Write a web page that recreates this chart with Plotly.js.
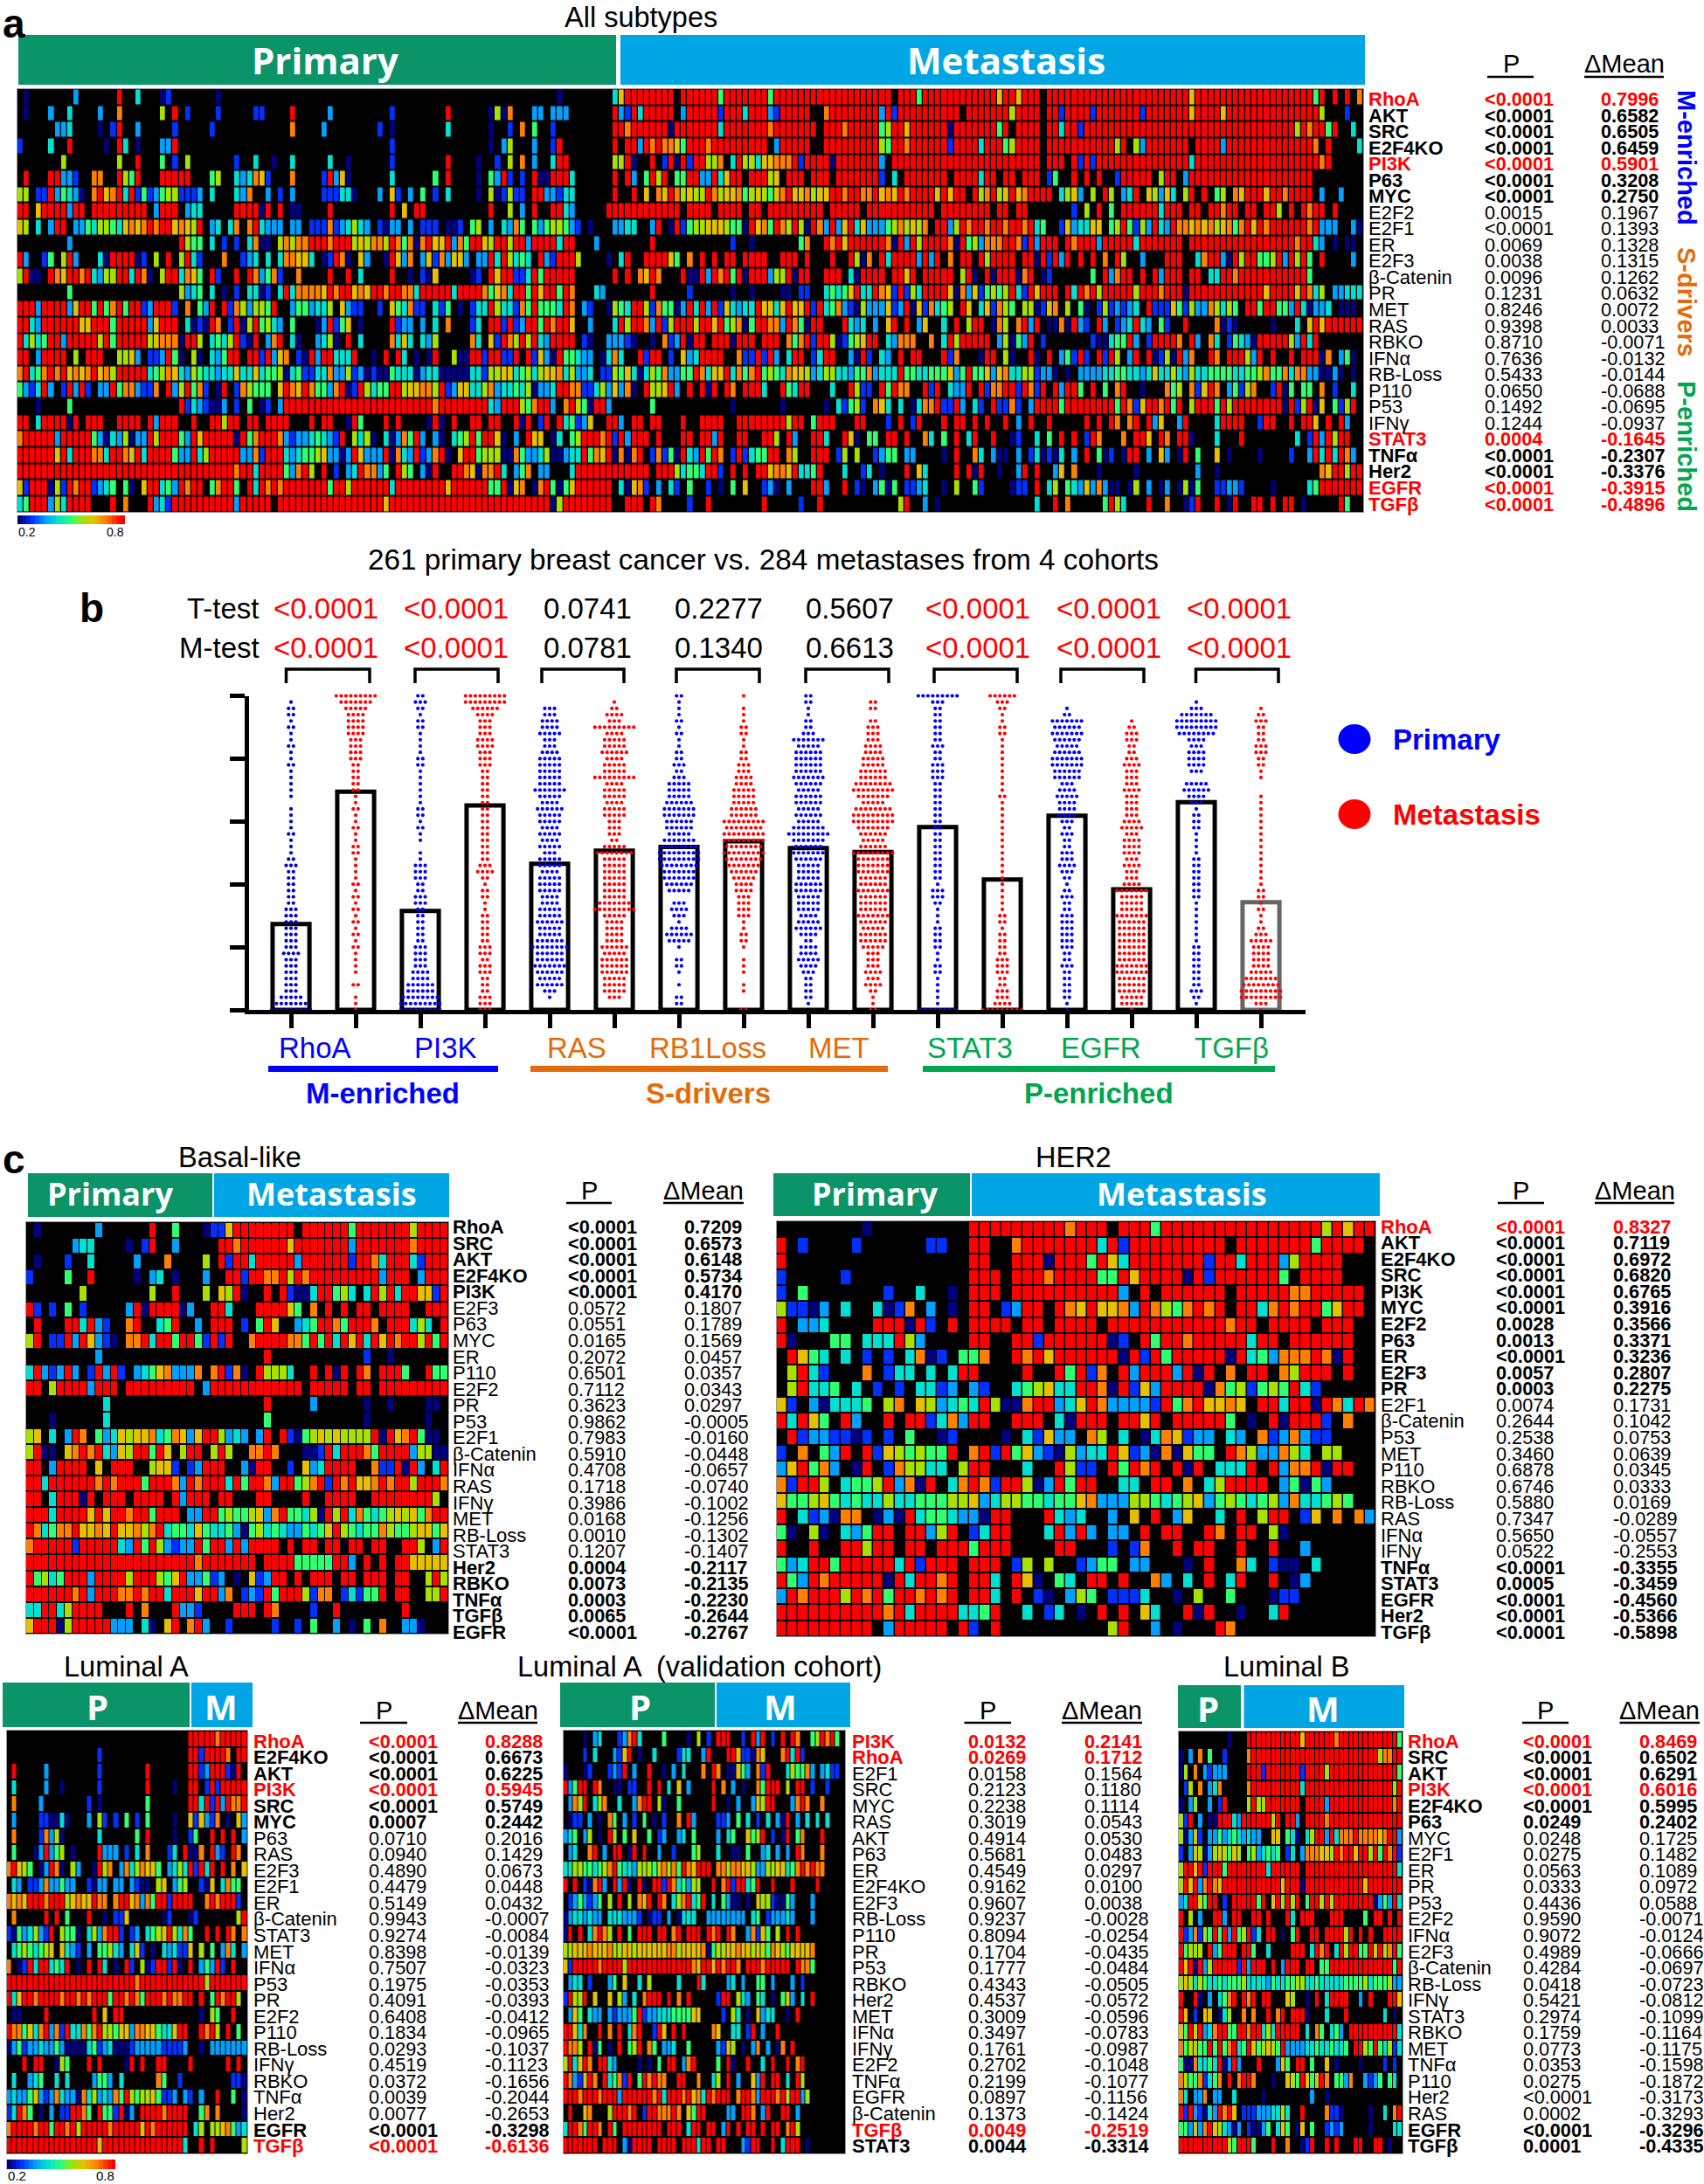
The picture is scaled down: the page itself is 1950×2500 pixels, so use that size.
<!DOCTYPE html>
<html><head><meta charset="utf-8"><script src="https://cdn.plot.ly/plotly-3.0.1.min.js"></script>
<style>html,body{margin:0;padding:0;background:#fff}</style></head><body><div id="chart" style="width:1950px;height:2500px"></div>
<script>
// ---------- value levels ('.' = below 0.2, drawn black) ----------
const levelValues = {'.':0, 1:0.2, 2:0.27, 3:0.35, 4:0.42, 5:0.5, 6:0.57, 7:0.63, 8:0.7, 9:0.8};
const colorbarValues = [0.2,0.225,0.25,0.275,0.3,0.325,0.35,0.375,0.4,0.425,0.45,0.475,0.5,0.525,0.55,0.575,0.6,0.625,0.65,0.675,0.7,0.725,0.75,0.775,0.8];

// ---------- Panel a : all subtypes ----------
const allGenes = ['RhoA','AKT','SRC','E2F4KO','PI3K','P63','MYC','E2F2','E2F1','ER','E2F3','β-Catenin','PR','MET','RAS','RBKO','IFNα','RB-Loss','P110','P53','IFNγ','STAT3','TNFα','Her2','EGFR','TGFβ'];
const allP = ['<0.0001','<0.0001','<0.0001','<0.0001','<0.0001','<0.0001','<0.0001','0.0015','<0.0001','0.0069','0.0038','0.0096','0.1231','0.8246','0.9398','0.8710','0.7636','0.5433','0.0650','0.1492','0.1244','0.0004','<0.0001','<0.0001','<0.0001','<0.0001'];
const allMean = ['0.7996','0.6582','0.6505','0.6459','0.5901','0.3208','0.2750','0.1967','0.1393','0.1328','0.1315','0.1262','0.0632','0.0072','0.0033','-0.0071','-0.0132','-0.0144','-0.0688','-0.0695','-0.0937','-0.1645','-0.2307','-0.3376','-0.3915','-0.4896'];
const allStyle = 'rbbbrbbnnnnnnnnnnnnnnrbbrr';
const allCells = [
".1.......3 ......9..4 ...12..... ..1....... .......... .......... .......... .......... .......1.. ......|4799999999 .999999599 9999959999 9999999999 99999.9995 9999999999 997997999. 9999999999 9999999999 9997999999 9999999999 99959.9.9. 8",
".1...3..4. ...3..8... ...6.9.2.. ..2.....22 ....9..... 3......... 2........9 ......1618 ...33.333. ......|9329499999 .399999299 9499932999 99..899999 9993929999 999999.999 999969999. 9929999299 9999929999 9997999979 9999999999 99996...2. .",
"......334. ...1.29..3 .....2.... .2........ ....8....3 ........2. 1........4 ......1..2 .8.5..2... ......|9989999991 9999999499 9999989999 999.999899 9995699799 9999199999 9959.9999. 9949929999 9999999999 9999999999 9999999999 6989959..4 .",
"2....4..9. ....1.94.1 ...339.... .......... .......... .......... 2......... ......1.36 ...3..29.. ......|9.99398988 7599989999 99999.3999 99..999999 9996599899 9999299994 999569999. 9999999999 969.639999 999.999939 9999999999 9998.9.... 4",
".......6.. ......6..9 ...5.2.6.. .....2..4. .1..4..... 4..1...... 2........9 ....1..2.6 .8.3..499. ......|6691..9.29 19299668.4 9664778889 2999919999 9993.99999 9999999999 999999999. 999.929299 9999999999 9994999999 9999999999 999989.... .",
".9...99332 ..88..9659 ...99999.. .56..43487 2...8....2 9371...... 4......5.9 ....1.5392 .2.9119994 ......|9.93.5969. 5599339479 9.99967.99 9.999.9999 9992.4.999 9999.99994 99.99.999. 25..9.9.9. .299999.69 9.39999999 9999999999 999....... .",
"66.2293543 1.89789492 5235662223 .4...438.. 3.2.3....2 22441...3. 72.3.5.2.4 ....1.6126 22.9933244 ......|9..9.7.879 8676698677 8567657897 7867799899 8897879899 9979799.96 8967978999 9.4673.6.9 6.349.7637 4.69.9.56. 8799979989 999.3..3.. .",
"99.7999939 9.99999999 9.3999.344 .....99991 9.9.11.... 9......... 9.7.99.... ......9..6 .3.9..9943 .....9|9999999999 9.9999.999 9.99.99999 9999.99999 .999999999 99.9999999 9.99.99... ....2.6.9. 5.99999949 99.99.9989 9.99.996.9 .9899.9... .",
"76.4.399.3 3546654787 8989978769 .34.48.894 333.33.222 8234643.21 33.3.222.1 12.56.3.43 85.5356653 2.1...|3344..39.1 9256677765 5197859869 6198393794 7333568676 8.99369899 8998998945 ..2734477. 5695263943 9887878678 5897989999 9989333..3 1",
"........3. .......... ......9655 .4.2.2.481 1.68688999 8999676886 9858189779 3859976996 9939999499 ...3..|......9... .........2 ..1....... 58..989799 9999819396 9999819563 8889982939 99.9899939 9999499999 99.9999999 9999999999 89943.1.11 .",
"93..25.693 ...4199991 2.6.9.6942 ...8..234. 4.488774.1 2981.73..1 9738.37283 773.339496 454.932999 6....1|.49..99997 5.8.9.9.99 .9999..999 .9...9..96 18.9499993 939.8.99.9 69999.9919 2939.9.9.8 .96..3...9 99..489931 9699556939 695.9....3 .",
"6911.98799 8943669949 81.6994875 .92..9.983 582..8.... 9..9.4.... 9..1.217.. ...12.9799 2249599999 ......|9.9.8798.. .911939895 9199936691 99..999.41 9999.9979. 99999.691. 91999189.1 2......5.9 3899.9.939 99.99.4499 8999999999 995....... .",
"........5. .......... ......6345 .4.1.2.441 2.49488887 9899787998 9988499999 4999985784 9959799598 ...43.|......9... ..2......1 ..1....11. 22..454579 4498729264 9999718372 5656942979 99.9498969 9999699989 9919999999 9999979999 79846.3344 4",
"9993999937 9959589599 239992.8.5 39.9286366 59..355344 6.7322..2. 754822.425 .1.2449644 2859555498 .32..1|6549962855 1394939274 3449774797 7929458321 6333723917 28456.97.4 72865.6612 78.6.51.26 23234.9222 7526338646 5.99599553 941334.111 .",
"9943999999 7799959999 937999.412 198.291695 643.5...13 9257.1.... 9233.3.4.8 ...24.9929 2399598997 ..3...|4969983926 9996997956 8159988398 5199...943 4.3.79.9.3 7..4.9.699 .186.8939. 1181932.93 .234943.52 ..9....812 1.....1... 4.79799999 9",
"9464599399 9996959999 9678881996 .45469219. 389.41..34 61.9.4.... 8474.436.. ...84.7298 6969439999 .21..3|3321..1.82 39199.9991 999.999.85 8929961256 799.43888. .8.4969999 9.361539.2 .......211 45593.2999 98.93.84.2 5431999996 3949...... .",
"99.39999.6 .999..6673 .223951.61 .43599.992 9378.21939 94449..1.9 .94.1.19.. 6119929922 9.92731955 433.14|84..9299.2 .7349999.. 8229293.49 9.2499..31 92.43.9.99 ...928...1 99.61..91. 9.35292.92 96.39.9126 1938..98.9 99639.9..9 .99918.351 .",
"8945898978 7897869999 9456874365 4434474474 5561452244 8336231211 5444134411 1114426677 4564677846 334.22|6574146583 3559847794 8589565487 7634664435 5834449554 4555735955 7378446623 31.1.33334 4554434744 6436445555 4455685584 88331131.1 .",
"532493.293 92.3395883 228.936958 2.19.28655 5.79879855 3891296455 9967788692 3774468344 5461334998 822463|7381.96679 3.9.919.98 .9994..954 99...4..96 22.95988.. 929.4339.9 2889929829 .93995.9.5 .89..1...8 56.82798.3 5268..2915 .55.8.2..4 .",
"...1....5. .......... ......9243 2113.2.5.1 2.39999999 9999999999 9999999899 9999994399 9658993.89 651993|......5... .........1 .......1.. ....1.4256 2.874.4.14 8892293.42 .92282.399 9959999999 9598279989 59.6999596 9999999919 26917.5269 .",
"99.4999919 .999..9999 .93999..9. .99699.99. 9999...9.9 9..195...9 .9....191. 9..99.99.. 919.29.945 237..9|93.99.99.. .9..9999.. 9999999969 9.5999...9 9...2.9.29 ...9.99.9. 9..9.3.9.. 9.....9.9. 98.89.937. .39....499 99..299..9 .997.9.93. .",
"8999993999 9953143613 3969995397 9999919589 9983233454 329.6461.4 138593.31. 456959971. 3.977.14.5 699989|293999.9.. .99.9939.. 99..996.93 ..994..971 .55.99.9.. 84.5.9.49. .9..12..4. 5.9.9.298. ..8.997.98 .991...4.. .9........ 4.2939699. .",
"9999997949 9988499879 4999953394 6999993382 9994345567 3313973339 1843923891 .799566611 8533461134 495879|18189.2825 19439598.2 9245599.86 ..999.26.6 ..2355.33. ...1.9..84 .311.3.241 214.3.9.51 2.199.3.73 .19.5..7.1 ....1....2 ..39494983 .",
"9999999999 9999999999 9999999999 9999989949 99953896.9 .2.3498835 .965.319.. 998718894. 358.33...4 999999|999999.999 64554992.9 .9.9978879 4459...4.. 24.1...9.7 4....9.919 ..1..39.9. .37.8...1. ....1..... ....3..1.. .......... ....879969 9",
"7299916298 992345.51. 7994539899 .58995.949 8989999999 5996999999 4999999997 9999995591 78.1895157 999999|.41782.3.4 2.5..2.1.5 .7..231.3. ..993..9.2 1.3515.223 4..1.6..52 ....122.9. 46.5437383 11.16.3.13 .1615..223 32....1... ..45999999 9",
"4599936499 99...9.8.. .934299999 9999939999 9.99999999 9999999997 9999999999 9999999999 9999991699 999999|..999.98.. ..2..9.... ....9..... 2..9...... ......69.. 3.1....... ........4. .9.8.....5 964...9..8 ..129..9.1 9..99.9.99 .1.....95. ."
];

// ---------- Panel c : Basal-like ----------
const basalGenes = ['RhoA','SRC','AKT','E2F4KO','PI3K','E2F3','P63','MYC','ER','P110','E2F2','PR','P53','E2F1','β-Catenin','IFNα','RAS','IFNγ','MET','RB-Loss','STAT3','Her2','RBKO','TNFα','TGFβ','EGFR'];
const basalP = ['<0.0001','<0.0001','<0.0001','<0.0001','<0.0001','0.0572','0.0551','0.0165','0.2072','0.6501','0.7112','0.3623','0.9862','0.7983','0.5910','0.4708','0.1718','0.3986','0.0168','0.0010','0.1207','0.0004','0.0073','0.0003','0.0065','<0.0001'];
const basalMean = ['0.7209','0.6573','0.6148','0.5734','0.4170','0.1807','0.1789','0.1569','0.0457','0.0357','0.0343','0.0297','-0.0005','-0.0160','-0.0448','-0.0657','-0.0740','-0.1002','-0.1256','-0.1302','-0.1407','-0.2117','-0.2135','-0.2230','-0.2644','-0.2767'];
const basalStyle = 'bbbbbnnnnnnnnnnnnnnnnbbbbb';
const basalCells = [
".1.......3 ......9..5 ...1|2279999999 9.99999959 9999996999 9",
"......344. ...1.29..3 ....|.998999999 7999999939 9999998999 9",
".1...2..4. ....3...8. ...6|.929949999 9399999929 9849994299 9",
"2....5..9. ....1.34.1 ...3|..99299889 6989999999 993999.399 9",
".......6.. ......6..9 ...6|.7691..9.9 21149956 4. 4969499772 9",
"92.2.5.2.. ...391 9999 13 ..5|994...9999 75.8.9.9.9 9.9999..99 9",
".9...9949 3 2 .. 8 9 . . 4 5 9 . . 3|999.2.597. .345998599 98.999464. 9",
"6 9 . 2 2 9 3 9 7 3 2 1 . 8 8 9 4 9 9 5 9 9 5 2|929..89999 8859594979 4979899695 9",
"......... 3...... .........|.......9.. .......... 2..1...... .",
"4 9 3 2 3 9 3 . 2 9 3 9 2 . 3 4 5 7 8 3 3 3 8 .|89281.9666 4..9.919.9 8.9995..95 5",
"99.69999 3 9 9 9 . 9 9 9 9 9 9 9 9 9 . 3|9999999999 99.99999.9 9.99999999 9",
"......... .4...... ......... |.......9.. ...3...... 1..1....11 .",
"...1...... 4.........|.......5.. .......... 1.......1. .",
"6 7 . 4 . 3 9 8 . 5 3 4 7 6 7 7 8 4 5 8 7 3 7 9|96343.39.9 2156767666 6919789511 .",
"6 9 1 1 . 7 8 9 8 9 4 3 7 6 9 9 5 9 7 . 6 9 9 .|696..8898. ..11294999 8599993661 1",
"9 9 . 3 9 9 9 9 . 7 . 9 9 9 . . 6 7 7 2 . 2 3 9 |99..3199.. 2.7349999. .8229193.4 9",
"9 9 4 9 9 9 9 9 9 8 9 8 9 9 9 5 9 9 9 8 3 9 8 9|9949599839 9568929897 7898996999 8",
"9 9 . 4 9 9 9 1 9 . 9 9 9 . 9 9 9 9 . 9 3 9 9 9 |.99...99.. ..9..9999. .999999996 .",
"9 9 9 4 9 9 9 9 7 9 7 9 9 8 9 9 5 9 9 9 . 3 3 9 |9565567389 5546196948 5456767589 9",
"9 8 4 5 8 8 9 7 7 8 7 9 7 7 8 6 8 9 4 5 5 4 7 5|4453156454 3354579654 5586556775 7",
"8 9 9 9 9 9 2 9 9 9 9 9 4 3 9 5 9 6 3 2 3 3 9 5|993939999. 9.99.99.99 .99..996.3 9",
"9 9 9 9 9 9 9 9 9 9 9 9 9 9 9 9 9 9 9 9 9 9 8 9|999999.999 955555993. 9.9.997777 7",
"9 5 6 4 5 9 9 9 3 9 9 9 9 6 9 9 9 6 5 7 9 3 3 5|23.1.72399 .9.999.99. 999.99..69 6",
"9 9 9 9 9 9 8 9 3 9 9 9 8 8 9 8 9 9 4 9 9 9 7 9|938.232959 996288.242 559.99..66 9",
"4 4 9 9 4 6 9 9 9 9 . . . 9 . 8 . . . 9 3 3 2 .|...999.98. ...2..9... .....9.... .",
"7 9 9 9 1 6 9 9 9 9 9 3 3 3 . 4 1 . 7 9 . 8 9 3|..2.....2. .2.5..3.1. 5.8..331.. ."
];

// ---------- Panel c : HER2 ----------
const her2Genes = ['RhoA','AKT','E2F4KO','SRC','PI3K','MYC','E2F2','P63','ER','E2F3','PR','E2F1','β-Catenin','P53','MET','P110','RBKO','RB-Loss','RAS','IFNα','IFNγ','TNFα','STAT3','EGFR','Her2','TGFβ'];
const her2P = ['<0.0001','<0.0001','<0.0001','<0.0001','<0.0001','<0.0001','0.0028','0.0013','<0.0001','0.0057','0.0003','0.0074','0.2644','0.2538','0.3460','0.6878','0.6746','0.5880','0.7347','0.5650','0.0522','<0.0001','0.0005','<0.0001','<0.0001','<0.0001'];
const her2Mean = ['0.8327','0.7119','0.6972','0.6820','0.6765','0.3916','0.3566','0.3371','0.3236','0.2807','0.2275','0.1731','0.1042','0.0753','0.0639','0.0345','0.0333','0.0169','-0.0289','-0.0557','-0.2553','-0.3355','-0.3459','-0.4560','-0.5366','-0.5898'];
const her2Style = 'rbbbbbbbbbbnnnnnnnnnnbbbbb';
const her2Cells = [
"....... .1 .........|9999999 9 9 8 9 9 9 . 9 9 9 5 9 9 9 9 9 9 9 9 9 9 9 9 9 9 9 6 9 7 9 9 9",
"9.2....2. .....22...|99..8999 9 9 9 9 4 9 2 9 9 9 9 9 9 9 9 9 . 9 9 9 9 9 9 9 5 9 9 9 9",
"9.........  ........|99..999 1 9 9 9 5 9 7 4 9 9 9 9 9 9 9 2 9 9 4 9 9 9 3 6 9 9 9 9",
"2.....2... ........|999.999 8 9 9 9 9 5 5 9 7 9 9 9 9 1 9 2 9 9 9 9 9 9 5 . 9 9 9 9",
"2.5....... 2..4..1.|999.9999 9 9 9 9 9 9 3 . 9 . 9 9 9 9 9 9 . 9 9 9 9 9 8 8 9 9 9 9 9",
"62 2 1 3 . 4 . . 4 1 2 8 . 3 . 1|99.2 3 9 9 . 9 8 7 9 7 7 8 3 9 8 6 5 8 9 8 9 . 9 9 4 8 9 8 9 9 5 7 9 9",
"9.3 3 4 . . . . 9 9 9 1 9 2 . 9|999 9 . 9 9 . 9 9 9 9 . 9 9 9 9 9 9 9 9 9 9 9 8 9 9 . 9 9 9 9 . 9 9 9",
"9 1 . . . 5 5 . 4 4 4 9 6 3 . . .|99..9 9 2 9 9 9 9 9 9 1 2 . 9 5 9 9 8 9 9 9 9 9 4 9 9 . 9 9 9 9 9 9",
". 9 7 5 4 . 4 . 2 . 2 . 4 8 1 2 . 5|5 8 . . 9 8 9 7 9 9 9 9 9 9 1 9 2 9 5 9 9 9 9 9 1 9 4 5 3 8 8 8 9 8 1 9",
".69 4 2 . . . 8 . 2 4 4 . 4 . 4 9|9 . . . . 9 . . 9 5 9 2 8 . 9 3 9 9 9 3 9 1 9 . 8 . 9 9 . 8 6 9 9 9 . 9",
".6 9 4 4 5 . 4 . 2 . 2 . 4 4 2 3 . 4|3 2 . . 4 5 6 7 4 4 9 9 8 1 9 2 7 3 9 9 9 9 1 8 5 6 2 5 6 5 9 4 2",
"7 2 . 3 1 4 4 4 5 . 6 8 . 7 6 3 4 5|4 9 6 1 1 8 9 9 3 4 7 9 8 3 3 3 3 2 9 5 8 9 7 7 8 7 . 9 9 4 9 9 1 9 8 4 9 8",
"9 4 9 7 5 . 9 3 . . 9 . 9 9 2 4 8 3|9 9 . . 9 9 9 . 4 1 9 9 9 . 9 9 7 9 . 9 9 9 9 9 5 . 1 . 9 1 9 9 9 2 . 8",
". 9 2 3 3 2 2 1 2 . 2 . 5 . . 1 2 . 3|. . . 1 . 4 2 7 3 3 . 8 6 . 4 . 1 4 8 7 2 3 3 . 4 3 . 8 2 3 8 3 2 2 .",
"2 . 8 . 5 3 9 . 9 2 7 6 5 6 5 5 9 .|8 9 2 9 5 7 3 2 1 6 3 4 4 9 7 2 3 1 8 1 7 5 5 . 9 8 6 3 3 8 6 4 . 6 6",
"3 7 9 5 8 3 . 1 9 . 2 8 6 6 4 4 . 6|9 9 . . . 4 . . 9 6 2 2 . 9 5 9 8 9 . 9 1 9 . 4 4 4 9 . 9 3 8 8 9 1 9 9",
"8 2 9 9 6 . 4 5 5 6 9 3 8 1 9 . 4 8|9 8 2 9 9 6 1 3 9 5 9 9 . . 4 4 . 9 9 . 8 . 4 6 9 9 9 9 . 3 5 1 5 3",
"7 5 5 6 7 5 4 5 4 4 6 4 4 5 5 5 6 6|7 3 4 6 6 5 5 4 5 5 7 8 3 3 3 6 6 5 4 5 6 7 3 5 6 5 4 5 6 3 8 4 4 5 6 5",
"9 . 4 2 3 1 8 8 . 1 3 1 9 4 5 5 4 3|3 1 9 9 . . . 9 4 3 4 . . 3 . 7 . 9 . 3 7 . . 4 . 9 . 6 9 9 . 2 7 . 8 . 8 3",
"5 1 . 6 1 . 4 3 5 9 9 . 9 9 3 6 9 .|2 4 9 9 . . . 4 9 3 9 3 . 3 3 . 9 . 9 9 . . 9 8 . 9 9 . 6 1 . .",
"9 . . 9 . . 9 9 6 9 9 . 9 9 . 9 9 9|5 9 9 9 . . . . 9 9 . . . 2 . 2 8 . . 9 . 9 9 . . 9 . . 9 . . 3",
"5 3 4 9 9 5 9 9 9 9 9 4 9 2 9 9 9 .|9 9 9 . 2 6 . 6 . . 2 3 5 5 . 3 3 . . . 1 . 9 . . 8 4 . 2 1 1 . 4",
"9 5 3 9 8 9 9 9 9 9 1 9 4 9 9 8 9 .|9 9 4 . 9 7 1 . 5 4 . 9 9 . 9 . . 8 3 . 4 . 9 . 4 9 . . 9 . 1 3",
"3 9 8 9 9 9 6 9 8 9 5 9 9 8 9 8 9 .|9 9 4 . 9 . 2 1 . 3 6 5 . 2 2 2 4 . . 1 . 6 . . 5 . . . 1 2 2 .",
"9 9 9 9 9 9 9 9 9 9 8 9 4 9 9 9 9 4|4 5 9 . . 4 . 2 4 . 1 . 9 . 9 . 7 4 . . 9 1 9 . . 1 . . 4 9 .",
"9 9 9 9 9 9 9 9 9 . 3 9 9 9 9 9 . 9|2 . 9 . . . . . . . . . . 6 9 . . 3 . 1 . . . 9 8 . . . . . . ."
];

// ---------- Panel c : Luminal A ----------
const lumAGenes = ['RhoA','E2F4KO','AKT','PI3K','SRC','MYC','P63','RAS','E2F3','E2F1','ER','β-Catenin','STAT3','MET','IFNα','P53','PR','E2F2','P110','RB-Loss','IFNγ','RBKO','TNFα','Her2','EGFR','TGFβ'];
const lumAP = ['<0.0001','<0.0001','<0.0001','<0.0001','<0.0001','0.0007','0.0710','0.0940','0.4890','0.4479','0.5149','0.9943','0.9274','0.8398','0.7507','0.1975','0.4091','0.6408','0.1834','0.0293','0.4519','0.0372','0.0039','0.0077','<0.0001','<0.0001'];
const lumAMean = ['0.8288','0.6673','0.6225','0.5945','0.5749','0.2442','0.2016','0.1429','0.0673','0.0448','0.0432','-0.0007','-0.0084','-0.0139','-0.0323','-0.0353','-0.0393','-0.0412','-0.0965','-0.1037','-0.1123','-0.1656','-0.2044','-0.2653','-0.3298','-0.6136'];
const lumAStyle = 'rbbrbbnnnnnnnnnnnnnnnnnnbr';
const lumACells = [
".......... .......... .......... ....|9999989999 9",
".......... .......2.. .......... ....|9929999 8 . 9 9",
".9.....3.. .......2.. ......9... ....|9923999 2 1 9 .",
".4.....3.. 1......2.. ......9... .1..|99.2 9 2 9 9 9 9 9",
".8....3... .....2.1.. ......5... ....|9949 2 9 3 9 8 8 9",
".3....2211 41...3.62. 2.5.2.5... .1..|7 2 7 3 2 8 . 1 . 7 3",
".8....2836 1......4.. ....5.9... .1..|2 5 . . 9 . 9 . 9 . 3",
".5...13935 6.1....933 3.2.4.8... 24.9|1 1 8 . 9 3 2 . 9 8 .",
"8 9 7 6 5 . 1 3 9 8 1 . 6 3 . . 1 9 6 8 . 3 8 4 6 8 7 7 5 . 3 4 6 4|9 2 9 4 9 . 9 . 8 . 7",
". 4 3 . 2 2 3 8 3 3 5 3 3 . . 2 1 3 3 . 3 3 . 3 2 1 1 . 6 7 . 3 5 6|. . 2 1 7 . 4 8 5 5 .",
"8 7 8 7 9 9 9 8 9 9 9 6 7 8 7 7 9 8 8 . 8 9 9 7 8 3 8 5 9 9 2 9 9 9|9 . . 8 9 8 9 9 9 2 .",
". 8 . . . . . 9 . 9 . 5 . . . 9 . . 1 . 2 2 7 . . . . . . 1 2 . . .|1 2 . . . . . . . 6 9",
"2 1 5 3 4 6 3 2 9 . 6 5 5 1 . 4 6 3 8 9 9 2 . 2 3 . 4 5 6 7 9 6 4 8|5 . . 9 . 9 . 9 8 . 8",
". 4 5 6 5 4 5 6 7 . 7 4 3 2 . 3 . 5 5 6 4 3 . 4 7 2 . 1 . 4 3 4 2 2|7 . 6 . 5 . 3 8 4 . 3",
"8 . 1 2 9 4 9 9 4 5 4 9 . 1 . 9 . 9 4 . 1 . 9 2 . 6 1 2 9 9 2 9 1 .|9 . 3 5 3 9 2 . 9 . .",
"9 9 9 9 9 9 9 9 9 9 9 9 9 9 9 9 9 9 9 9 9 9 9 9 8 9 9 9 9 9 9 9 9 9|9 9 9 6 9 9 9 9 9 9 9",
"9 4 7 9 9 8 9 9 9 9 8 9 9 8 9 8 9 9 9 5 9 9 8 9 8 5 9 9 9 8 9 8 8 9|9 . 9 . 5 9 8 9 9 6 .",
". 1 1 . . . . 9 . . . . . . . . 9 . 7 . 9 9 . . . . . . . . . . . .|. . 1 . 6 5 . . 9 . .",
"9 8 8 5 7 4 8 9 3 8 2 9 4 4 8 5 8 9 6 6 5 7 7 3 8 8 7 7 5 4 4 7 9 9|. . 9 8 9 6 . 9 . 5 .",
"1 3 5 2 3 3 4 3 3 5 3 1 1 1 1 4 5 2 3 4 1 1 1 2 3 3 3 3 3 2 2 2 2 3|. . 1 . 3 3 3 3 3 3 3",
". . . 9 . 9 9 . . 1 6 5 . . . 9 . 9 . . . . 1 9 . 9 . . 9 9 . . . .|9 . . . . . . 9 . 9 .",
". 4 . . 3 4 5 . . 4 . 4 . . . . 3 5 5 3 . 4 . . . . . . 8 5 . . 2 .|. . . . . . . . 2 2 1",
"3 4 3 3 5 7 3 2 3 8 4 3 3 1 8 4 6 3 4 3 8 5 9 6 5 6 6 7 5 2 2 3 . 3|2 . 3 . . 9 . . 5 . 1",
"2 4 9 8 5 . 1 . 3 . 2 2 9 9 8 5 . 9 5 5 2 9 1 3 . 9 9 9 9 8 9 9 9 9|. . 5 8 . 8 . . . . 1",
"8 9 9 9 9 8 9 9 5 9 9 8 9 6 9 9 9 9 9 8 9 9 9 9 9 7 9 8 9 9 9 9 9 9|. 4 6 . 6 6 7 8 5 3 4",
"9 9 9 9 9 9 9 9 9 9 9 9 9 9 9 9 9 7 9 9 9 9 9 9 9 9 9 9 9 9 9 9 9 4|. . 9 . 9 . . . . . 6"
];

// ---------- Panel c : Luminal A validation ----------
const lumVGenes = ['PI3K','RhoA','E2F1','SRC','MYC','RAS','AKT','P63','ER','E2F4KO','E2F3','RB-Loss','P110','PR','P53','RBKO','Her2','MET','IFNα','IFNγ','E2F2','TNFα','EGFR','β-Catenin','TGFβ','STAT3'];
const lumVP = ['0.0132','0.0269','0.0158','0.2123','0.2238','0.3019','0.4914','0.5681','0.4549','0.9162','0.9607','0.9237','0.8094','0.1704','0.1777','0.4343','0.4537','0.3009','0.3497','0.1761','0.2702','0.2199','0.0897','0.1373','0.0049','0.0044'];
const lumVMean = ['0.2141','0.1712','0.1564','0.1180','0.1114','0.0543','0.0530','0.0483','0.0297','0.0100','0.0038','-0.0028','-0.0254','-0.0435','-0.0484','-0.0505','-0.0572','-0.0596','-0.0783','-0.0987','-0.1048','-0.1077','-0.1156','-0.1424','-0.2519','-0.3314'];
const lumVStyle = 'rrnnnnnnnnnnnnnnnnnnnnnnrb';
const lumVCells = [
"....1.34.. .2 3 8 9 4 . . . . 5 . . . . 1 . 6 . 2 . . . |. 9 9 9 . . 2 . 9 3 9 . 2 . 9 . 9 8 . . 5 6 9 8 9 5",
"....2.4.. .3 2 7 9 . 1 . . 4 . . . . 2 4 4 . . 3 9 9 |. . . 9 9 7 2 2 1 8 7 . . . 8 9 4 9 2 . . . . . . .",
"1...1 2 . . . 2 3 2 9 . 3 . . 9 . . 1 . 3 . 4 . . . 8 |9 8 . 1 1 7 5 3 . 8 2 9 . . . 4 6 5 5 8 3 . 3 4 2 2",
"9 3 5 9 9 . 9 8 . . 1 1 . 2 2 . . 9 . 9 . 4 . 7 . 3 . .|9 . 8 . 3 . 1 . . 8 5 9 9 9 . 6 . 9 9 . 2 . . 2",
". 3 8 6 9 . 4 6 8 . . 4 . . 3 8 9 9 . 6 1 . . 5 . . . .|9 . . 1 . 3 . . 3 7 6 9 9 . . . 3 8 9 8 . . 8",
". 1 2 2 . 3 . 1 . 8 5 . 3 . 2 . 5 . 1 . 2 . . 8 . 9 3|. 2 2 3 . 5 . 4 . 2 . 4 . 3 1 9 . 3 . 4 . 4 . 4",
"3 4 5 . 3 6 . 1 . 9 6 . 5 . 7 . . 5 . 2 3 . . 3 4 . 5|. 3 . 4 5 . . 7 5 6 9 . 2 . 1 9 . 5 8 . . . 9",
". 3 4 . . 8 9 . 3 . 9 9 . 1 9 . 9 . . 3 . . 2 . . . 5 6|. 4 . . 1 1 . 5 . . 3 4 . 3 . 3 . 9 8 . . . 8",
"4 4 6 6 5 5 4 5 6 8 9 5 4 4 3 6 6 6 5 7 8 6 8 5 9 8 7 9 9 9|. 8 8 6 8 8 7 7 6 3 3 6 6 7 7 4 5 8 9 8 9 8 8",
"9 . 9 . 2 1 8 9 3 . 9 3 9 1 . 9 1 . 9 9 2 9 8 4 5 3 6 6 . .|9 . 8 9 2 9 9 4 5 9 . . 9 . . . 9 . . . . 9",
". 2 3 5 3 2 3 5 . 6 . 9 . 6 . 8 7 9 . 9 8 . 4 6 8 9 4 5 9 .|4 . 5 3 1 1 . 1 . 7 6 6 2 1 1 5 3 . . . 3",
"1 3 4 4 3 4 3 3 . 4 4 4 3 3 3 2 . 1 2 2 . 3 . 1 4 4 4 . . 3|3 3 3 3 3 3 3 . 4 5 . 2 3 3 3 4 3 . . . 3",
"1 9 . 9 . 4 8 9 8 6 . 9 . 5 . 9 9 9 . 9 9 . 8 9 . 9 9 9 . 9|8 9 . 9 8 . . 3 8 2 7 5 . 6 . 9 . 9",
"6 6 7 7 7 8 7 7 7 8 6 6 7 7 6 7 7 7 7 7 7 8 8 6 7 7 7 7 8 1|5 6 6 7 7 8 7 7 6 7 6 5 8 7 6 5 7 7 7 7 8",
"7 2 9 9 9 9 9 8 9 9 9 9 6 9 9 9 9 9 9 9 9 9 9 9 9 9 8 7 9 9|7 9 8 9 9 8 . 9 9 9 8 9 9 9 9 9 . 9 8 8 5",
". 3 4 4 . 2 . . . 3 5 . 7 . . 4 . 6 . . . . . 4 . . . 9 4|. . . 3 4 . 3 . . 5 5 . 3 . . . 3 . 2",
"2 9 6 6 9 . 7 . . 7 . 6 3 . 4 . 8 9 9 9 . 9 . 8 . 9 .|. 2 9 9 . 6 4 3 . 5 4 . 1 . 5 7 3 . 4 . 9",
". 3 7 5 . 4 3 3 . 3 2 3 3 3 5 9 2 3 3 4 4 4 5 5 5 5 7 7 .|. . 2 . 6 4 . 1 . 7 3 4 4 . . 1 . 9",
"9 9 7 4 8 . . 9 . 8 . 9 . 4 8 9 . . 2 9 7 . 9 . 9 . . .|8 7 . . 4 4 . 2 9 . 3 . . 9 .",
"9 8 8 6 . 9 1 5 . 1 . 9 . 5 6 9 . 8 5 . 3 3 4 . . 5|. 3 2 7 6 . 1 . 3 8 . 3 . 1 8 . 9",
"6 9 4 7 9 8 . 9 9 4 3 . . . . 1 . 1 . 5 . 9 9 . 3 8 9 .|. 5 . 9 1 . . 9 . . 4 . 9 . . 9 . 8 9",
"9 8 3 2 7 9 8 . 9 4 5 8 2 9 . 5 9 8 9 8 8 . . 9 9 . . 8|4 6 . 9 . 3 . . 7 3 9 . 9 9 . 4 . 9 6",
"9 9 9 8 9 9 9 8 9 9 9 3 9 9 9 9 9 9 8 9 4 9 9 9 8 9 7 8 4 9|8 9 9 9 . 8 9 9 8 3 9 9 9 8 9 6 9 9 3 6",
". 9 . . 7 8 . . . 6 9 9 9 8 9 . 2 9 9 8 8 8 9 8 . 7 5 9 9|. . . 3 3 . 9 9 8 . 3 9 . . 9 9 . 3 . . .",
"4 9 9 8 5 9 9 8 . 9 5 . 9 9 9 9 9 9 9 9 . 9 9 9 . 4 9 9 . 9|9 . 3 9 . 9 . 9 9 . 9 . 9 9 . 8 9 6",
"9 9 9 9 9 9 9 . 9 9 9 . 3 1 9 9 9 9 . 9 9 9 9 . 9 9 9 4 9 9|. 9 9 . . . 3 2 9 9 . . 9 . 4 9 9 9 . 1"
];

// ---------- Panel c : Luminal B ----------
const lumBGenes = ['RhoA','SRC','AKT','PI3K','E2F4KO','P63','MYC','E2F1','ER','PR','P53','E2F2','IFNα','E2F3','β-Catenin','RB-Loss','IFNγ','STAT3','RBKO','MET','TNFα','P110','Her2','RAS','EGFR','TGFβ'];
const lumBP = ['<0.0001','<0.0001','<0.0001','<0.0001','<0.0001','0.0249','0.0248','0.0275','0.0563','0.0333','0.4436','0.9590','0.9072','0.4989','0.4284','0.0418','0.5421','0.2974','0.1759','0.0773','0.0353','0.0275','<0.0001','0.0002','<0.0001','0.0001'];
const lumBMean = ['0.8469','0.6502','0.6291','0.6016','0.5995','0.2402','0.1725','0.1482','0.1089','0.0972','0.0588','-0.0071','-0.0124','-0.0666','-0.0697','-0.0723','-0.0812','-0.1099','-0.1164','-0.1175','-0.1598','-0.1872','-0.3173','-0.3293','-0.3296','-0.4335'];
const lumBStyle = 'rbbrbbnnnnnnnnnnnnnnnnnnbb';
const lumBCells = [
"..........1...|9999999999 9799999989 9999999999 95",
"1.3.8.5..2....|8999999999 9999999999 9999999688 99",
"1 6 . 8 . 3 2 3 3 3 . . . .|9992999999 9299996999 9999999999 95",
".2 6 . 8 . 3 4 8 . . . . .|8999999999 9499999999 9999999999 69",
"1 . 3 6 . . 3 . 2 9 . . . .|6966999999 9.99993999 9999999999 89",
"6 2 9 . 3 . 1 1 9 9 9 4 3 9|9999969.99 3.99998999 9999999999 99",
"6 1 3 7 2 . 3 3 5 3 4 5 4 3|433..77.54 1.46993948 8898888789 93",
"2 . 3 7 6 1 3 6 7 6 5 7 6 .|5634545.24 .388877698 9979969598 92",
"6 9 9 7 9 2 9 9 9 5 9 9 9 9|9999499999 9.99999999 9999999999 94",
"6 9 7 9 3 8 9 8 7 9 9 9 9 9|9999999799 9199999999 9999799999 99",
"3 4 9 9 6 5 9 9 . 2 . 9 9 9|9959.79696 9.59969699 9999991353 94",
"9 . 6 . 3 . . 9 9 3 . 9 9 .|.99.9...94 .999...999 ....5.99.9 .9",
"9 2 3 8 2 6 5 9 5 9 3 9 5 6|924.99.1.5 9..99.9999 69.9.9..99 99",
"9 5 6 6 6 . 9 3 5 9 9 9 . 9|95..4....9 99.4989.49 6995596968 95",
"9 7 9 1 9 3 6 9 9 9 9 9 2 9|3999.9.399 9.99.55999 9999999999 59",
"6 7 6 4 6 5 4 4 5 4 5 5 5 6|4444354455 6644544444 5555645556 33",
"9 . . 9 1 . 3 . 4 5 8 9 . 9|89.99...76 ..1.9.4999 9..3.9...9 97",
"9 7 . 2 . 7 7 . 1 4 6 . . 8|.8..9.89.9 991...4... 9.......4. 1.",
"7 5 9 6 9 3 4 8 9 9 5 5 9 9|8994649999 9.4.85.453 .999999999 94",
"8 5 6 7 5 5 9 5 9 5 8 9 4 5|9756765933 3344544544 5.99659546 24",
"5 1 1 8 4 4 5 4 9 1 3 9 3 .|..9...375. 99.5..7.1. ...1....2. 2.",
"8 6 5 5 8 2 4 5 8 . 9 . 8 9|98...1..76 5975798.55 38..3235.5 4.",
"8 4 . 3 3 8 . 3 3 . . 4 . .|...1...... ...3..1... .......... ..",
"9 2 9 3 2 1 4 3 9 8 9 7 . 2|223334464. .9....8221 .....1..4. 89",
"5 5 3 7 3 8 9 7 6 4 3 1 3 .|21135.475. 17.5..2323 .....1.... 44",
"9 9 9 9 9 9 9 9 9 9 6 5 9 9|95...9..8. .129..9.9. ..99..99.1 .."
];

// ---------- Panel b : bars, swarm counts per level (from 1.00 down to 0.00 in steps of 0.02) ----------
const barCategories = ['RhoA Primary','RhoA Metastasis','PI3K Primary','PI3K Metastasis','RAS Primary','RAS Metastasis','RB1Loss Primary','RB1Loss Metastasis','MET Primary','MET Metastasis','STAT3 Primary','STAT3 Metastasis','EGFR Primary','EGFR Metastasis','TGFβ Primary','TGFβ Metastasis'];
const barMeans = [0.273,0.695,0.315,0.651,0.465,0.507,0.519,0.537,0.515,0.503,0.582,0.415,0.618,0.384,0.661,0.343];
const barLineColors = ['#000','#000','#000','#000','#000','#000','#000','#000','#000','#000','#000','#000','#000','#000','#000','#666'];
const rhoaP = [0,1,2,2,1,2,1,1,2,1,1,2,1,1,1,1,1,0,1,1,1,1,2,1,1,1,2,3,2,2,2,2,2,2,3,3,3,3,3,3,3,4,3,3,3,3,3,3,5,7,9];
const rhoaM = [9,7,5,4,4,4,4,3,3,3,3,2,2,2,2,2,1,1,2,1,1,2,1,1,2,2,1,1,1,1,2,1,2,1,2,1,2,1,2,1,2,1,1,1,1,0,2,0,1,1,1];
const pi3kP = [2,3,2,1,2,2,1,1,1,1,2,2,1,1,1,1,1,1,2,2,1,2,1,1,0,1,1,3,3,3,2,2,3,3,2,2,2,2,2,2,3,3,3,3,4,4,6,6,8,9,9];
const pi3kM = [9,9,6,4,3,3,3,4,4,3,3,3,2,2,2,2,2,2,2,2,2,2,2,2,2,2,2,3,4,2,1,2,2,1,1,2,2,2,2,2,3,3,2,3,3,2,2,2,3,3,3];
const rasP = [0,0,3,3,4,4,5,3,3,4,5,5,5,5,5,7,5,4,6,5,5,4,5,4,5,3,5,5,4,5,5,5,4,4,5,5,6,5,5,6,8,6,6,7,6,5,6,3,1,0,0];
const rasM = [0,1,2,4,3,9,4,5,5,6,4,5,5,9,4,5,5,4,5,5,3,3,3,2,5,8,5,5,5,5,5,5,5,7,9,5,4,4,4,4,6,5,6,6,6,5,5,5,3,0,0];
const rb1P = [2,1,1,1,2,1,2,1,1,2,2,3,2,3,5,5,5,6,7,7,6,6,5,7,8,9,9,8,7,7,6,5,0,3,4,3,1,4,6,5,1,0,2,2,1,0,1,0,2,2,0];
const rb1M = [1,0,1,1,1,2,2,1,1,2,2,3,3,4,4,5,5,5,6,6,9,8,9,9,8,9,8,7,6,5,4,4,3,3,3,3,1,1,2,2,1,0,1,1,1,0,1,1,0,0,2];
const metP = [2,2,1,1,2,2,3,7,5,6,6,6,6,7,6,5,6,6,5,6,5,7,9,7,6,7,6,5,5,5,6,6,5,5,5,4,5,6,4,2,4,4,5,4,3,2,2,2,2,1,0];
const metM = [0,2,2,0,2,3,3,3,4,4,5,5,6,6,8,9,7,5,8,9,9,7,6,5,6,9,7,7,7,6,6,7,6,6,6,7,6,5,6,6,5,3,3,3,4,3,4,2,1,1,2];
const stat3P = [9,3,2,2,2,2,2,2,3,2,2,3,3,3,2,2,2,2,2,2,2,2,2,2,2,2,2,2,2,2,1,3,3,2,1,1,1,2,2,2,2,1,1,2,2,1,1,1,1,1,8];
const stat3M = [6,3,2,1,1,2,2,1,1,1,1,1,1,1,1,1,2,1,1,1,1,1,1,1,1,1,1,1,1,1,1,1,1,1,1,2,2,1,2,2,2,2,3,3,3,2,2,3,3,4,9];
const egfrP = [0,0,1,2,7,6,7,6,5,6,7,7,6,6,3,4,5,4,4,4,3,2,3,2,2,3,3,4,3,2,1,2,3,2,2,3,3,3,3,3,3,2,2,3,2,2,2,2,2,1,1];
const egfrM = [0,0,0,0,1,2,3,3,2,2,3,4,3,3,3,4,3,3,3,3,4,5,3,4,4,4,3,4,3,3,4,7,5,5,5,7,6,6,6,6,6,6,6,7,7,6,6,6,5,5,1];
const tgfbP = [0,1,3,7,9,9,8,4,3,4,4,4,3,0,5,6,4,3,1,2,2,2,1,1,1,1,2,2,2,2,2,2,2,1,1,1,1,1,1,1,2,2,2,2,2,2,2,3,2,1,0];
const tgfbM = [0,0,1,2,3,2,2,2,3,3,2,2,1,1,0,0,1,1,1,1,1,1,1,1,1,1,1,1,1,1,1,2,2,1,2,1,1,2,3,5,4,4,4,4,5,7,8,9,9,3,1];
const swarmGroups = [rhoaP,rhoaM,pi3kP,pi3kM,rasP,rasM,rb1P,rb1M,metP,metM,stat3P,stat3M,egfrP,egfrM,tgfbP,tgfbM];
const swarmStep = 0.02;
const tTest = ['<0.0001','<0.0001','0.0741','0.2277','0.5607','<0.0001','<0.0001','<0.0001'];
const mTest = ['<0.0001','<0.0001','0.0781','0.1340','0.6613','<0.0001','<0.0001','<0.0001'];
const pathwayNames = ['RhoA','PI3K','RAS','RB1Loss','MET','STAT3','EGFR','TGFβ'];
const pathwayGroups = ['M-enriched','S-drivers','P-enriched'];

// ---------- page geometry ----------
const W=1950,H=2500, FONT='"Liberation Sans",Arial,sans-serif', HFONT='"Open Sans","Noto Sans",sans-serif';
const GREEN='#0A9467', CYAN='#00A6E3', BLUE='#0000FF', RED='#FF0000', ORANGE='#E36C0A', PGREEN='#00A650';
const px=x=>x/W, py=y=>1-y/H;
const traces=[], shapes=[], annotations=[], layout={};
function text(t,x,y,size,color,opts){annotations.push(Object.assign({text:t,x:px(x),y:py(y),xref:'paper',yref:'paper',showarrow:false,borderpad:0,xanchor:'left',yanchor:'middle',font:{family:FONT,size:size,color:color||'#000'}},opts||{}));}
function rect(x0,y0,x1,y1,fill){shapes.push({type:'rect',xref:'paper',yref:'paper',x0:px(x0),x1:px(x1),y0:py(y0),y1:py(y1),fillcolor:fill,line:{width:0},layer:'below'});}
function line(x0,y0,x1,y1,color,w){shapes.push({type:'line',xref:'paper',yref:'paper',x0:px(x0),x1:px(x1),y0:py(y0),y1:py(y1),line:{color:color,width:w}});}
const colorscale=[[0,'#000000'],[0.2,'#000000'],[0.25,'#00007f'],[0.3375,'#0030ff'],[0.4375,'#00a0ff'],[0.525,'#00e0d0'],[0.625,'#30ff70'],[0.7125,'#a8e000'],[0.7875,'#e6c000'],[0.875,'#ff8000'],[0.975,'#ff1000'],[1,'#ff0000']];
let axisN=1;
function axes(x0,x1,y0,y1,xr,yr,extra){const n=axisN++;const base={showgrid:false,zeroline:false,showticklabels:false,ticks:'',fixedrange:true};
  layout['xaxis'+(n>1?n:'')]=Object.assign({},base,{domain:[px(x0),px(x1)],range:xr,anchor:'y'+(n>1?n:'')},extra&&extra.x);
  layout['yaxis'+(n>1?n:'')]=Object.assign({},base,{domain:[py(y1),py(y0)],range:yr,anchor:'x'+(n>1?n:'')},extra&&extra.y);
  return n>1?n:'';}
function parseRow(s,nP,nM){const parts=s.replace(/\s/g,'').split('|');const fit=(p,n)=>(p+'.'.repeat(n)).slice(0,n);return (fit(parts[0],nP)+fit(parts[1]||'',nM)).split('').map(c=>levelValues[c]);}
function heat(name,cells,nP,nM,x0,x1,y0,y1,xgap,ygap){
  rect(x0,y0,x1,y1,'#000');
  const n=axes(x0,x1,y0,y1,[-0.5,nP+nM-0.5],[cells.length-0.5,-0.5],{x:{showline:true,mirror:true,linecolor:'#999',linewidth:1},y:{showline:true,mirror:true,linecolor:'#999',linewidth:1}});
  traces.push({type:'heatmap',name:name,z:cells.map(r=>parseRow(r,nP,nM)),zmin:0,zmax:0.8,colorscale:colorscale,showscale:false,xgap:xgap,ygap:ygap,hoverinfo:'skip',xaxis:'x'+n,yaxis:'y'+n});
}
function rowText(genes,ps,means,style,xL,xP,xM,yFirst,yLast){
  const pitch=(yLast-yFirst)/(genes.length-1);
  genes.forEach((g,i)=>{const s=style[i],c=s==='r'?RED:'#000',b=v=>s==='n'?v:'<b>'+v+'</b>',y=yFirst+i*pitch;
    text(b(g),xL,y,22,c);text(b(ps[i]),xP,y,21.7,c);text(b(means[i]),xM,y,21.7,c);});
}
function header(aLabel,bLabel,aCx,bCx,yC,size,x0,xa,xb,x1,yT,yB){
  rect(x0,yT,xa,yB,GREEN);rect(xb,yT,x1,yB,CYAN);
  [[aLabel,aCx],[bLabel,bCx]].forEach(d=>text('<b>'+d[0]+'</b>',d[1],yC,size,'#fff',{xanchor:'center',font:{family:HFONT,size:size,color:'#fff'}}));
}
function colHead(pCx,pU0,pU1,mU0,mU1,yT,yU){
  text('P',pCx,yT,29,'#000',{xanchor:'center'});text('ΔMean',(mU0+mU1)/2,yT,29,'#000',{xanchor:'center'});
  line(pU0,yU,pU1,yU,'#000',2.5);line(mU0,yU,mU1,yU,'#000',2.5);
}
function colorbar(x0,x1,y0,y1,yL,size){
  const n=axes(x0,x1,y0,y1,[-0.5,colorbarValues.length-0.5],[-0.5,0.5]);
  traces.push({type:'heatmap',z:[colorbarValues],zmin:0,zmax:0.8,colorscale:colorscale,showscale:false,hoverinfo:'skip',xaxis:'x'+n,yaxis:'y'+n});
  text('0.2',x0,yL,size,'#000');text('0.8',x1,yL,size,'#000',{xanchor:'right'});
}
const letter=(t,x,y)=>text('<b>'+t+'</b>',x,y,46,'#000');
const title=(t,cx,y,size)=>text(t,cx,y,size||32.5,'#000',{xanchor:'center'});

// panel a
letter('a',2,27);title('All subtypes',733,20);
header('Primary','Metastasis',372,1151,69,42,21,705,710,1562,40,97);
heat('All subtypes',allCells,96,121,20,1560,101.5,586,1.3,2);
rowText(allGenes,allP,allMean,allStyle,1565,1698,1831,113.5,577);
colHead(1729,1702,1755,1813,1904,73,88);
colorbar(20,143,590,600,609,14);
[['M-enriched',BLUE,180],['S-drivers',ORANGE,346],['P-enriched',PGREEN,511]].forEach(d=>text('<b>'+d[0]+'</b>',1930,d[2],29,d[1],{xanchor:'center',textangle:90}));

// panel b
title('261 primary breast cancer vs. 284 metastases from 4 cohorts',873,640,33.3);
letter('b',90,696);
text('T-test',298,697,33,'#000',{xanchor:'right'});text('M-test',298,742,33,'#000',{xanchor:'right'});
const testX=[373,522,672.5,822,972,1119,1269,1418];
const bracketX=[[327.5,423],[475,570],[620,714],[774,869],[922,1017],[1069,1164],[1214,1309],[1368.5,1463]];
testX.forEach((x,i)=>{
  text(tTest[i],x,697,33,tTest[i][0]==='<'?RED:'#000',{xanchor:'center'});
  text(mTest[i],x,742,33,mTest[i][0]==='<'?RED:'#000',{xanchor:'center'});
  const b=bracketX[i];
  shapes.push({type:'path',xref:'paper',yref:'paper',path:`M ${px(b[0])} ${py(782)} L ${px(b[0])} ${py(766)} L ${px(b[1])} ${py(766)} L ${px(b[1])} ${py(782)}`,line:{color:'#000',width:3.5}});
});
const barN=axes(285,1494,796.5,1156,[-0.649,15.689],[0,1],{
  x:{showline:true,linecolor:'#000',linewidth:5,ticks:'outside',ticklen:16,tickwidth:5,tickcolor:'#000',tickvals:barCategories.map((c,i)=>i)},
  y:{showline:true,linecolor:'#000',linewidth:5,ticks:'outside',ticklen:17,tickwidth:5,tickcolor:'#000',tickvals:[0,0.2,0.4,0.6,0.8,1]}});
traces.push({type:'bar',x:barCategories.map((c,i)=>i),y:barMeans,width:0.57,text:barCategories,textposition:'none',hoverinfo:'text+y',marker:{color:'rgba(255,255,255,0)',line:{color:barLineColors,width:5}},xaxis:'x'+barN,yaxis:'y'+barN,showlegend:false});
swarmGroups.forEach((counts,g)=>{
  const xs=[],ys=[];
  counts.forEach((n,k)=>{for(let i=0;i<n;i++){xs.push(g+(i-(n-1)/2)*0.075);ys.push(1-k*swarmStep);}});
  const col=g%2?RED:(g===0?'#0000C8':BLUE);
  traces.push({type:'scatter',mode:'markers',name:barCategories[g],x:xs,y:ys,cliponaxis:false,hoverinfo:'name+y',marker:{size:4.2,color:col},xaxis:'x'+barN,yaxis:'y'+barN,showlegend:false});
});
const nameX=[360,510,660,810,960,1110,1260,1409], nameC=[BLUE,BLUE,ORANGE,ORANGE,ORANGE,PGREEN,PGREEN,PGREEN];
pathwayNames.forEach((n,i)=>text(n,nameX[i],1199.5,33,nameC[i],{xanchor:'center'}));
line(307,1223.5,570,1223.5,BLUE,7);line(607,1223.5,1016,1223.5,ORANGE,7);line(1056,1223.5,1459,1223.5,PGREEN,7);
[[438,BLUE],[810,ORANGE],[1257,PGREEN]].forEach((d,i)=>text('<b>'+pathwayGroups[i]+'</b>',d[0],1251,33,d[1],{xanchor:'center'}));
[[846,BLUE,'Primary'],[932,RED,'Metastasis']].forEach(d=>{
  shapes.push({type:'circle',xref:'paper',yref:'paper',x0:px(1531.5),x1:px(1568.5),y0:py(d[0]+17),y1:py(d[0]-17),fillcolor:d[1],line:{width:0}});
  text('<b>'+d[2]+'</b>',1593,d[0],33,d[1]);
});

// panel c : basal
letter('c',2,1327);title('Basal-like',274,1325);
header('Primary','Metastasis',126,379,1366,36,32,243,245,514,1343,1393);
heat('Basal-like',basalCells,24,31,30,513,1399,1870,1,2);
rowText(basalGenes,basalP,basalMean,basalStyle,517,649,782,1404.6,1868.5);
colHead(674,648,700,759,851,1363,1377);
// HER2
title('HER2',1228,1325);
header('Primary','Metastasis',1001,1352,1366,36,885,1110,1112,1579,1343,1392);
heat('HER2',her2Cells,18,38,889,1574,1398,1873,1.5,2);
rowText(her2Genes,her2P,her2Mean,her2Style,1579,1711,1844.5,1404,1868.5);
colHead(1740,1714,1767,1825,1916,1363,1377);
// Luminal A
title('Luminal A',144,1908);
header('P','M',111,253,1953,40,3,217,219,289,1926,1977);
heat('Luminal A',lumACells,34,11,7.5,283,1981,2465,1,2);
rowText(lumAGenes,lumAP,lumAMean,lumAStyle,288.5,421,554,1993,2456.6);
colHead(439,412,466,524,615,1958,1972);
colorbar(7.5,132,2472,2483,2490,15);
// Luminal A validation
title('Luminal A  (validation cohort)',800,1908);
header('P','M',732,893,1953,40,641,818,820,973,1926,1977);
heat('Luminal A validation',lumVCells,30,27,644.5,967,1981,2465,1,2);
rowText(lumVGenes,lumVP,lumVMean,lumVStyle,974,1106.6,1239.6,1993,2456.6);
colHead(1130,1103.5,1157,1215,1307,1958,1972);
// Luminal B
title('Luminal B',1472.5,1908);
header('P','M',1382,1514,1955,40,1348,1420,1423.5,1607,1929,1978);
heat('Luminal B',lumBCells,14,32,1349,1605,1982,2465,1,2);
rowText(lumBGenes,lumBP,lumBMean,lumBStyle,1610,1741.5,1875,1993,2456.6);
colHead(1768.5,1742,1795,1853.5,1945,1958,1972);

Object.assign(layout,{width:W,height:H,margin:{l:0,r:0,t:0,b:0,pad:0},paper_bgcolor:'#fff',plot_bgcolor:'rgba(0,0,0,0)',showlegend:false,shapes:shapes,annotations:annotations,barmode:'overlay',hovermode:'closest'});
Plotly.newPlot('chart',traces,layout,{staticPlot:true,displayModeBar:false,responsive:false});
</script></body></html>
